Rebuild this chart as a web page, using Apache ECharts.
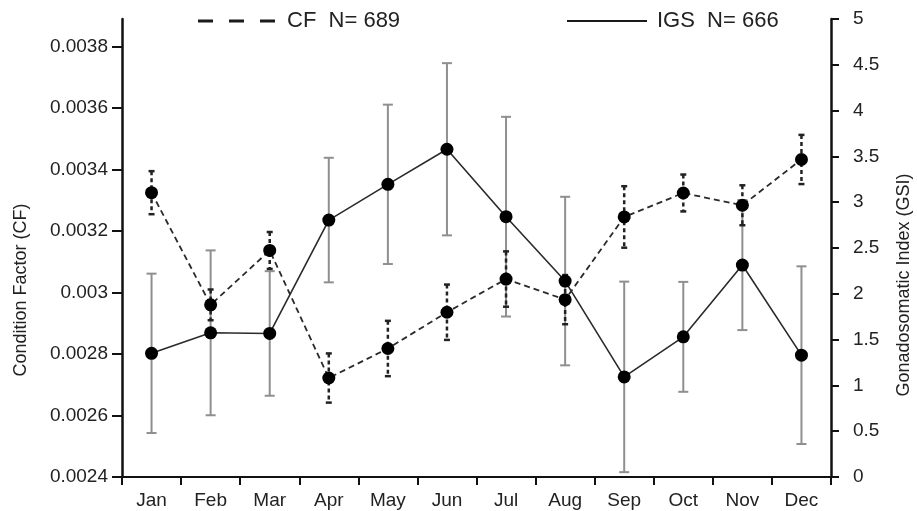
<!DOCTYPE html>
<html>
<head>
<meta charset="utf-8">
<script src="https://cdn.jsdelivr.net/npm/echarts@6/dist/echarts.min.js"></script>
<style>
html,body{margin:0;padding:0;background:#fff;}
#chart{width:917px;height:511px;}
</style>
</head>
<body>
<div id="chart"></div>
<script>
// ---- data ----
const months = ['Jan','Feb','Mar','Apr','May','Jun','Jul','Aug','Sep','Oct','Nov','Dec'];
const cfMean = [0.003325, 0.00296, 0.003137, 0.002722, 0.002818, 0.002936, 0.003044, 0.002977, 0.003246, 0.003324, 0.003284, 0.003433];
const cfErr  = [0.00007, 0.00005, 0.00006, 0.00008, 0.00009, 0.00009, 0.00009, 0.00008, 0.0001, 0.00006, 0.000065, 0.00008];
const gsiMean = [1.35, 1.574, 1.567, 2.805, 3.195, 3.578, 2.842, 2.139, 1.093, 1.53, 2.314, 1.33];
const gsiErr  = [0.87, 0.90, 0.68, 0.68, 0.87, 0.94, 1.09, 0.92, 1.04, 0.60, 0.71, 0.97];
const cfTicks = [0.0024, 0.0026, 0.0028, 0.003, 0.0032, 0.0034, 0.0036, 0.0038];
const gsiTicks = [0, 0.5, 1, 1.5, 2, 2.5, 3, 3.5, 4, 4.5, 5];
const cfName = 'CF  N= 689';
const gsiName = 'IGS  N= 666';

const cfBars = cfMean.map((m, i) => [i, m - cfErr[i], m + cfErr[i]]);
const gsiBars = gsiMean.map((m, i) => [i, m - gsiErr[i], m + gsiErr[i]]);

function errRender(capW, style) {
  return function (params, api) {
    const x = api.value(0);
    const top = api.coord([x, api.value(2)]);
    const bot = api.coord([x, api.value(1)]);
    return {
      type: 'group',
      children: [
        {type: 'line', shape: {x1: top[0], y1: top[1], x2: bot[0], y2: bot[1]}, style: style},
        {type: 'line', shape: {x1: top[0] - capW / 2, y1: top[1], x2: top[0] + capW / 2, y2: top[1]}, style: Object.assign({}, style, {lineDash: null})},
        {type: 'line', shape: {x1: bot[0] - capW / 2, y1: bot[1], x2: bot[0] + capW / 2, y2: bot[1]}, style: Object.assign({}, style, {lineDash: null})}
      ]
    };
  };
}

const FONT = '"Liberation Sans", Arial, sans-serif';
const chart = echarts.init(document.getElementById('chart'));
chart.setOption({
  animation: false,
  backgroundColor: '#fff',
  textStyle: {fontFamily: FONT},
  grid: {left: 122, right: 86, top: 19, bottom: 34, containLabel: false},
  legend: [
    {
      data: [{name: cfName, icon: 'path://M0,0h15v3h-15zM31,0h15v3h-15zM62,0h15v3h-15z'}],
      left: 198, top: 10, padding: 0, itemWidth: 77, itemHeight: 3,
      itemStyle: {color: '#1a1a1a', borderWidth: 0},
      textStyle: {fontSize: 22, color: '#222', fontFamily: FONT, padding: [0, 0, 0, 7]},
      selectedMode: false
    },
    {
      data: [{name: gsiName, icon: 'path://M0,0h80v2h-80z'}],
      left: 567, top: 10, padding: 0, itemWidth: 80, itemHeight: 2,
      itemStyle: {color: '#1a1a1a', borderWidth: 0},
      textStyle: {fontSize: 22, color: '#222', fontFamily: FONT, padding: [0, 0, 0, 5]},
      selectedMode: false
    }
  ],
  xAxis: {
    type: 'category',
    data: months,
    boundaryGap: true,
    axisLine: {lineStyle: {color: '#111', width: 2}},
    axisTick: {show: true, length: 8, lineStyle: {color: '#111', width: 2}},
    axisLabel: {fontSize: 19, color: '#222', margin: 14, fontFamily: FONT},
    splitLine: {show: false}
  },
  yAxis: [
    {
      type: 'value',
      min: 0.0024, max: 0.00389,
      position: 'left',
      axisLine: {show: true, lineStyle: {color: '#111', width: 2.5}},
      axisTick: {show: true, length: 10, lineStyle: {color: '#111', width: 2}, customValues: cfTicks},
      axisLabel: {fontSize: 19, color: '#222', margin: 14, fontFamily: FONT, customValues: cfTicks,
        formatter: v => String(+v.toFixed(4))},
      splitLine: {show: false}
    },
    {
      type: 'value',
      min: 0, max: 5, interval: 0.5,
      position: 'right',
      axisLine: {show: true, lineStyle: {color: '#111', width: 2.5}},
      axisTick: {show: true, length: 8, lineStyle: {color: '#111', width: 2}},
      axisLabel: {fontSize: 19, color: '#222', margin: 22, fontFamily: FONT},
      splitLine: {show: false}
    }
  ],
  graphic: [
    {type: 'text', x: 21, y: 290, rotation: Math.PI / 2,
      style: {text: 'Condition Factor (CF)', fontSize: 18, fontFamily: FONT, fill: '#222', align: 'center', verticalAlign: 'middle'}},
    {type: 'text', x: 904, y: 285, rotation: Math.PI / 2,
      style: {text: 'Gonadosomatic Index (GSI)', fontSize: 18, fontFamily: FONT, fill: '#222', align: 'center', verticalAlign: 'middle'}}
  ],
  series: [
    {
      type: 'custom', name: 'gsiErr', yAxisIndex: 1, z: 1,
      renderItem: errRender(10, {stroke: '#8f8f8f', lineWidth: 2}),
      encode: {x: 0, y: [1, 2]},
      data: gsiBars, silent: true
    },
    {
      type: 'custom', name: 'cfErr', yAxisIndex: 0, z: 1,
      renderItem: errRender(6, {stroke: '#222', lineWidth: 2.5, lineDash: [4, 3]}),
      encode: {x: 0, y: [1, 2]},
      data: cfBars, silent: true
    },
    {
      type: 'line', name: gsiName, yAxisIndex: 1, z: 3,
      data: gsiMean,
      symbol: 'circle', symbolSize: 13,
      itemStyle: {color: '#000'},
      lineStyle: {color: '#2a2a2a', width: 1.6, type: 'solid'}
    },
    {
      type: 'line', name: cfName, yAxisIndex: 0, z: 3,
      data: cfMean,
      symbol: 'circle', symbolSize: 13,
      itemStyle: {color: '#000'},
      lineStyle: {color: '#2a2a2a', width: 1.8, type: [6, 4]}
    }
  ]
});
</script>
</body>
</html>
